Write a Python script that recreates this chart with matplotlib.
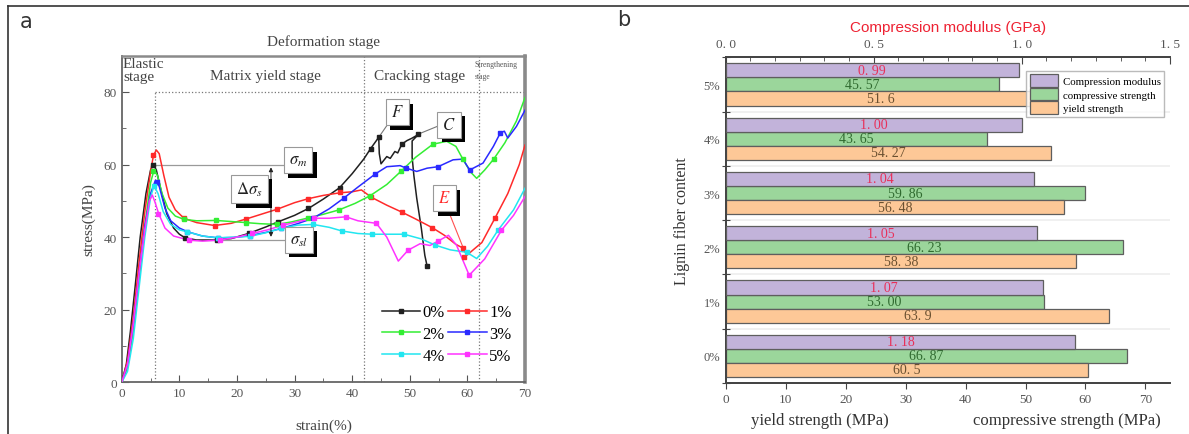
import numpy as np
import matplotlib.pyplot as plt
import matplotlib.patheffects as pe
from matplotlib.ticker import MultipleLocator
from matplotlib.lines import Line2D

plt.rcParams['font.family'] = ['Liberation Serif', 'DejaVu Serif']
plt.rcParams['mathtext.fontset'] = 'stix'

# ---------- panel a : stress-strain curves ----------
labels_a = ['0%', '1%', '2%', '3%', '4%', '5%']
colors_a = ['#202020', '#ff2a2a', '#33ee33', '#2a2aff', '#22e6f0', '#ff33ff']

strain_0 = [0, 0.8, 1.5, 2.3, 3.2, 4.2, 5.0, 5.5, 6.0, 6.8, 7.8, 9, 10, 11, 13, 16, 19, 22, 25, 27.1, 30, 32.4, 35,
            37.8, 40, 42, 43.2, 44.6, 44.7, 45, 46, 46.6, 47.4, 47.9, 48.6, 49.5, 50.3, 51.5, 50.4, 50.4, 50.7, 51.2,
            52, 52.6, 53]
stress_0 = [0, 5, 14, 26, 40, 52, 58.5, 60, 58.5, 53, 46.5, 42.5, 40.8, 39.8, 39.2, 39.2, 39.6, 41, 42.8, 44.2, 46,
            47.9, 50.5, 53.6, 57.5, 61.5, 64.4, 67.5, 63, 60.2, 62.2, 61.7, 63.6, 63.2, 65.6, 66.6, 67.2, 68.3, 66.5,
            62, 57, 50.7, 42.4, 35, 32]
mk_strain_0 = [5.4, 11, 16.6, 22, 27.1, 32.4, 37.8, 43.2, 44.6, 48.6, 51.5, 53]
mk_stress_0 = [60, 39.8, 39.3, 41, 44.2, 47.9, 53.6, 64.4, 67.5, 65.6, 68.3, 32]

strain_1 = [0, 1, 2, 3, 4, 5, 5.5, 6, 6.5, 7.3, 8.2, 9.3, 10.8, 13, 16.1, 19, 21.6, 24, 27, 30, 32.4, 35, 37.8, 40,
            41.6, 43.3, 46, 48.6, 51, 53.9, 56, 58, 59.2, 59.9, 61, 62.5, 64.8, 67, 69, 70]
stress_1 = [0, 6, 18, 33, 47, 58, 62.5, 64, 63, 57, 51, 47.5, 45.2, 44, 43.2, 43.8, 45, 46.2, 47.7, 49.5, 50.6, 51.5,
            52.2, 52.5, 53, 51, 48.8, 46.9, 45, 42.6, 40.5, 38, 37, 35, 36.5, 38.5, 45.3, 52, 60, 65.4]
mk_strain_1 = [5.4, 10.8, 16.2, 21.6, 27, 32.4, 37.8, 43.3, 48.6, 53.9, 59.2, 59.4, 64.8]
mk_stress_1 = [62.6, 45.2, 43.1, 45, 47.7, 50.6, 52.3, 51, 46.9, 42.6, 37, 34.6, 45.3]

strain_2 = [0, 1, 2, 3, 4, 5, 5.6, 6.2, 7, 8, 9.3, 10.8, 13, 16.3, 19, 21.6, 24, 26.9, 29.5, 32.4, 35, 37.7, 40.5,
            43.1, 46, 48.5, 51, 54, 56.4, 58, 59.2, 60.5, 61.6, 63, 64.6, 66.5, 68.5, 70]
stress_2 = [0, 4, 14, 28, 43, 55, 58.5, 57, 52, 48, 45.8, 44.9, 44.5, 44.6, 44.3, 44, 43.7, 43.5, 44.2, 45.3, 46.3,
            47.5, 49.3, 51.4, 54.5, 58.2, 62, 65.6, 66.4, 65, 61.5, 58, 56.2, 58.5, 61.6, 66, 72, 78.5]
mk_strain_2 = [5.4, 10.8, 16.3, 21.6, 26.9, 32.4, 37.7, 43.1, 48.5, 54, 59.2, 64.6]
mk_stress_2 = [58.3, 44.9, 44.7, 44, 43.5, 45.3, 47.5, 51.4, 58.2, 65.6, 61.5, 61.6]

strain_3 = [0, 1, 2, 3, 4, 5, 5.8, 6.5, 7.5, 8.5, 10, 11.4, 14, 16.7, 19.5, 22.2, 25, 27.7, 30.5, 33.2, 36, 38.5, 41,
            44, 46, 48.3, 49.4, 51.2, 53, 54.9, 57.5, 59.2, 60.4, 62.7, 64.5, 65.7, 66.4, 67, 68.5, 70]
stress_3 = [0, 5, 16, 30, 43, 52, 55.5, 54, 48, 44.5, 42.5, 41.5, 40.3, 39.8, 39.9, 40.4, 41.3, 42.4, 43.7, 45.2,
            47.8, 50.7, 53.8, 57.4, 59.4, 59.7, 59, 58.1, 59, 59.4, 61.3, 61.5, 58.5, 60.4, 65, 68.7, 69.2, 67.3, 70.5,
            75]
mk_strain_3 = [6.1, 11.4, 16.7, 22.2, 27.7, 33.2, 38.5, 44, 49.4, 54.9, 60.4, 65.7]
mk_stress_3 = [55.1, 41.5, 39.8, 40.4, 42.4, 45.2, 50.7, 57.4, 59, 59.4, 58.5, 68.7]

strain_4 = [0, 1, 2, 3, 4, 5, 5.6, 6.3, 7.2, 8.5, 10, 11.3, 14, 16.7, 19.5, 22.2, 25, 27.7, 30.5, 33.2, 36, 38.2,
            41, 43.5, 46, 49, 52, 54.4, 57, 59.9, 61.6, 63.5, 65.3, 68, 70]
stress_4 = [0, 3, 12, 26, 40, 51, 54.2, 52, 47, 43.5, 42, 41.5, 40.3, 39.8, 40, 40.2, 41.2, 42.4, 43.3, 43.5, 42.7,
            41.7, 41, 40.8, 40.8, 40.8, 39.5, 37.8, 36.5, 35.8, 34.1, 37.5, 41.9, 47.5, 53.5]
mk_strain_4 = [5.6, 11.3, 16.7, 22.2, 27.7, 33.2, 38.2, 43.5, 49, 54.4, 59.9, 65.3]
mk_stress_4 = [54.2, 41.5, 39.8, 40.2, 42.4, 43.5, 41.7, 40.8, 40.8, 37.8, 35.8, 41.9]

strain_5 = [0, 1, 2, 3, 4, 4.8, 5.3, 5.8, 6.4, 7.5, 9, 11.6, 14, 17.1, 20, 22.6, 25.3, 28, 30.7, 33.3, 36, 38.9, 41,
            44.2, 46, 48, 49.7, 51.8, 53.5, 54.9, 56.7, 58.1, 60.3, 63, 65.9, 68, 70]
stress_5 = [0, 5, 16, 30, 42, 50, 51.6, 49.5, 46.5, 42.5, 40.3, 39.2, 38.9, 39.2, 40, 41, 42, 43.3, 44.3, 45.2, 45.2,
            45.6, 44.5, 43.8, 40, 33.4, 36.4, 38.2, 37.7, 38.9, 40.5, 37.8, 29.5, 34, 41.9, 46, 51.2]
mk_strain_5 = [6.3, 11.6, 17.1, 22.6, 28, 33.3, 38.9, 44.2, 49.7, 54.9, 60.3, 65.9]
mk_stress_5 = [46.5, 39.2, 39.2, 41, 43.3, 45.2, 45.6, 43.8, 36.4, 38.9, 29.5, 41.9]

# ---------- panel b : bar chart ----------
contents = ['0%', '1%', '2%', '3%', '4%', '5%']
modulus = [1.18, 1.07, 1.05, 1.04, 1.00, 0.99]
comp_strength = [66.87, 53.00, 66.23, 59.86, 43.65, 45.57]
yield_strength = [60.5, 63.9, 58.38, 56.48, 54.27, 51.6]
modulus_txt = ['1. 18', '1. 07', '1. 05', '1. 04', '1. 00', '0. 99']
comp_txt = ['66. 87', '53. 00', '66. 23', '59. 86', '43. 65', '45. 57']
yield_txt = ['60. 5', '63. 9', '58. 38', '56. 48', '54. 27', '51. 6']

fig = plt.figure(figsize=(11.89, 4.35), dpi=100)

# outer frame
fig.add_artist(Line2D([8 / 1189, 1], [1 - 7 / 435] * 2, color='#333333', lw=1.2))
fig.add_artist(Line2D([8 / 1189] * 2, [0, 1 - 7 / 435], color='#333333', lw=1.2))
fig.text(20 / 1189, 1 - 22 / 435, 'a', fontsize=15, family='DejaVu Sans', color='#333333', va='center')
fig.text(617 / 1189, 1 - 20 / 435, 'b', fontsize=15, family='DejaVu Sans', color='#333333', va='center')

# ----- panel a -----
ax = fig.add_axes([0.1024, 0.1189, 0.3392, 0.7508])
series = [(strain_0, stress_0, mk_strain_0, mk_stress_0), (strain_1, stress_1, mk_strain_1, mk_stress_1),
          (strain_2, stress_2, mk_strain_2, mk_stress_2), (strain_3, stress_3, mk_strain_3, mk_stress_3),
          (strain_4, stress_4, mk_strain_4, mk_stress_4), (strain_5, stress_5, mk_strain_5, mk_stress_5)]
handles = []
for (sx, sy, mx, my), c, lab in zip(series, colors_a, labels_a):
    ax.plot(sx, sy, color=c, lw=1.1, zorder=3)
    ax.plot(mx, my, ls='none', marker='s', ms=3.2, color=c, zorder=4)
    handles.append(Line2D([], [], color=c, lw=1.1, marker='s', ms=3.2, label=lab))

ax.set_xlim(0, 70)
ax.set_ylim(0, 90)
ax.xaxis.set_major_locator(MultipleLocator(10))
ax.xaxis.set_minor_locator(MultipleLocator(5))
ax.yaxis.set_minor_locator(MultipleLocator(10))
ax.set_yticks([0, 20, 40, 60, 80])
ax.tick_params(which='both', direction='in', colors='#555555', labelsize=9.5)
ax.tick_params(which='major', length=5)
ax.tick_params(which='minor', length=3)
for sp in ax.spines.values():
    sp.set_color('#666666')
    sp.set_linewidth(1.3)
ax.spines['right'].set_linewidth(2.6)
ax.spines['right'].set_color('#8a8a8a')
ax.spines['top'].set_linewidth(1.8)
ax.spines['top'].set_color('#8a8a8a')
ax.set_xlabel('strain(%)', fontsize=11, color='#444444', labelpad=14)
ax.set_ylabel('stress(MPa)', fontsize=11, color='#444444', labelpad=6)

# stage division lines
ax.plot([5.8, 5.8], [0, 80], ls=':', color='#777777', lw=0.9, zorder=1)
ax.plot([42, 42], [0, 90], ls=':', color='#777777', lw=0.9, zorder=1)
ax.plot([62, 62], [0, 90], ls=':', color='#777777', lw=0.9, zorder=1)
ax.plot([5.8, 70], [80, 80], ls=':', color='#777777', lw=0.9, zorder=1)

ax.text(0.2, 89.6, 'Elastic\nstage', fontsize=11, color='#444444', va='top', ha='left', linespacing=1.0)
ax.text(25, 84.6, 'Matrix yield stage', fontsize=11, color='#444444', va='center', ha='center')
ax.text(51.7, 84.6, 'Cracking stage', fontsize=11, color='#444444', va='center', ha='center')
ax.text(61.3, 88.8, 'Strengthening\nstage', fontsize=5.5, color='#555555', va='top', ha='left', linespacing=1.6)
ax.set_title('Deformation stage', fontsize=11, color='#444444', pad=8)

# stress level annotation lines
ax.plot([6, 28.6], [60, 60], color='#9a9a9a', lw=0.9, zorder=2)
ax.plot([12, 28.8], [39.3, 39.3], color='#9a9a9a', lw=0.9, zorder=2)
ax.annotate('', xy=(25.9, 60), xytext=(25.9, 39.3),
            arrowprops=dict(arrowstyle='<|-|>', color='#222222', lw=0.7, mutation_scale=6), zorder=5)
ax.plot([46.3, 44.6], [71.4, 67.5], color='#777777', lw=0.8, zorder=2)
ax.plot([55.2, 51.5], [70.8, 68.4], color='#777777', lw=0.8, zorder=2)
ax.plot([56.7, 59.3], [47.2, 36.9], color='#ff5050', lw=0.8, zorder=2)


def label_box(x, y, s, col='#222222'):
    t = ax.text(x, y, s, fontsize=12, ha='center', va='center', color=col,
                bbox=dict(boxstyle='square,pad=0.3', fc='white', ec='#999999', lw=0.8), zorder=7)
    t.get_bbox_patch().set_path_effects([
        pe.SimplePatchShadow(offset=(3.2, -3.2), shadow_rgbFace='black', alpha=1.0), pe.Normal()])


label_box(30.6, 61.2, r'$\sigma_{m}$')
label_box(22.2, 53.2, r'$\Delta\sigma_{s}$')
label_box(30.7, 39.3, r'$\sigma_{sl}$')
label_box(47.8, 74.4, r'$F$')
label_box(56.8, 71.0, r'$C$')
label_box(56.0, 50.7, r'$E$', col='#ff2a2a')

order = [0, 2, 4, 1, 3, 5]
ax.legend([handles[i] for i in order], [labels_a[i] for i in order], ncol=2, loc='lower right',
          bbox_to_anchor=(0.995, 0.02), frameon=False, fontsize=12, handlelength=2.3,
          handletextpad=0.15, columnspacing=0.2, labelspacing=0.35, borderpad=0.2)

# ----- panel b -----
bx = fig.add_axes([0.6104, 0.1172, 0.3735, 0.7488])
bx2 = bx.twiny()
pos = np.arange(len(contents))
h = 0.26
c_purple, c_green, c_orange = '#c2b3da', '#9bd69b', '#fdc897'
edge = '#5e5e5e'
b_comp = bx.barh(pos, comp_strength, height=h, color=c_green, edgecolor=edge, lw=0.9, zorder=3,
                 label='compressive strength')
b_yield = bx.barh(pos - h, yield_strength, height=h, color=c_orange, edgecolor=edge, lw=0.9, zorder=3,
                  label='yield strength')
b_mod = bx2.barh(pos + h, modulus, height=h, color=c_purple, edgecolor=edge, lw=0.9, zorder=3,
                 label='Compression modulus')
bx.bar_label(b_comp, labels=comp_txt, label_type='center', fontsize=10, color='#2f6a2f')
bx.bar_label(b_yield, labels=yield_txt, label_type='center', fontsize=10, color='#6a5030')
bx2.bar_label(b_mod, labels=modulus_txt, label_type='center', fontsize=10, color='#e8305a')

bx.set_xlim(0, 74.07)
bx2.set_xlim(0, 1.5)
bx.set_ylim(-0.5, 5.5)
for yb in np.arange(-0.5, 5.0, 1.0):
    bx.axhline(yb, color='#f0f0f0', lw=1.4, zorder=0)

bx.set_yticks(np.arange(-0.5, 6.0, 1.0))
bx.set_yticklabels([])
bx.set_yticks(pos, minor=True)
bx.set_yticklabels(contents, minor=True, fontsize=9, color='#555555')
bx.tick_params(axis='y', which='major', direction='inout', length=6, color='#444444')
bx.tick_params(axis='y', which='minor', length=0, pad=4)
bx.xaxis.set_major_locator(MultipleLocator(10))
bx.tick_params(axis='x', direction='out', length=4, color='#444444', labelsize=9.5, labelcolor='#555555')

bx2.set_xticks([0, 0.5, 1.0, 1.5])
bx2.set_xticklabels(['0. 0', '0. 5', '1. 0', '1. 5'], fontsize=9.5, color='#555555')
bx2.xaxis.set_minor_locator(MultipleLocator(0.5 / 6))
bx2.tick_params(axis='x', which='both', direction='in', color='#444444', pad=5)
bx2.tick_params(axis='x', which='major', length=5)
bx2.tick_params(axis='x', which='minor', length=3)
bx2.set_xlabel('Compression modulus (GPa)', fontsize=11, color='#ee2233', family='Liberation Sans', labelpad=5)

for a in (bx, bx2):
    a.spines['right'].set_visible(False)
    for k in ('left', 'top', 'bottom'):
        a.spines[k].set_color('#444444')
        a.spines[k].set_linewidth(1.3)

fig.text(820 / 1189, 1 - 421 / 435, 'yield strength (MPa)', fontsize=12, color='#333333', ha='center', va='center')
fig.text(1067 / 1189, 1 - 421 / 435, 'compressive strength (MPa)', fontsize=12, color='#333333', ha='center',
         va='center')
bx.set_ylabel('Lignin fiber content', fontsize=11.5, color='#333333', labelpad=10)

bx2.legend([b_mod, b_comp, b_yield], ['Compression modulus', 'compressive strength', 'yield strength'],
           loc='upper right', bbox_to_anchor=(1.0, 0.975), fontsize=7.8, fancybox=False, edgecolor='#aaaaaa',
           handlelength=2.6, handleheight=1.4, labelspacing=0.1, borderpad=0.3, handletextpad=0.5)

fig.savefig('out.png', dpi=100)
